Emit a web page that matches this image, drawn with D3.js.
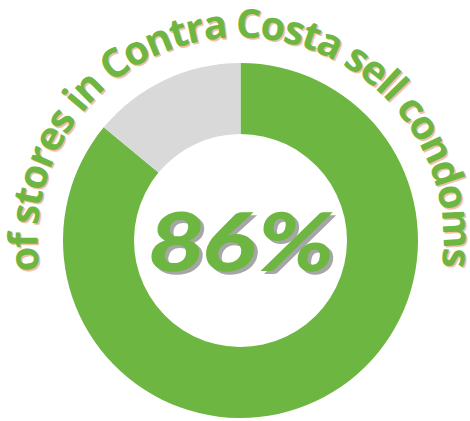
<!DOCTYPE html>
<html><head><meta charset="utf-8">
<script src="https://cdn.jsdelivr.net/npm/d3@7"></script>
<style>html,body{margin:0;padding:0;background:#fff;}svg{display:block;}</style>
</head><body>
<svg id="chart" width="470" height="421"></svg>
<script>
const categories = ["Sell condoms", "Do not sell condoms"];
const values = [86, 14];
const colors = ["#6db641", "#d9d9d9"];
const centerLabel = "86%";
const arcLabel = "of stores in Contra Costa sell condoms";

const svg = d3.select("#chart");
const cx = 240.5, cy = 240.5, outerR = 177.5, innerR = 106.5;
const g = svg.append("g").attr("transform", `translate(${cx},${cy})`);

const pie = d3.pie().sort(null).value(d => d.v);
const arc = d3.arc().innerRadius(innerR).outerRadius(outerR);
const data = categories.map((c, i) => ({c, v: values[i], col: colors[i]}));
g.selectAll("path.slice").data(pie(data)).join("path")
  .attr("class", "slice").attr("d", arc).attr("fill", d => d.data.col);

// arc text path
const textR = 203;
const a0 = -99 * Math.PI / 180, a1 = 98 * Math.PI / 180;
const p = d3.path();
p.arc(0, 0, textR, a0 - Math.PI / 2, a1 - Math.PI / 2, false);
g.append("path").attr("id", "tp").attr("d", p.toString()).attr("fill", "none");

const arcLen = textR * (a1 - a0);
function arcText(dx, dy, fill) {
  g.append("text")
    .attr("transform", `translate(${dx},${dy})`)
    .attr("font-family", "'Open Sans', sans-serif")
    .attr("font-weight", 700).attr("font-size", 40).attr("fill", fill)
    .append("textPath").attr("href", "#tp").attr("startOffset", "50%")
    .attr("text-anchor", "middle")
    .attr("textLength", arcLen - 4).attr("lengthAdjust", "spacing")
    .text(arcLabel);
}
arcText(1.6, 1.6, "#f5bfa6");
arcText(0, 0, "#6db641");

function center(dx, dy, fill) {
  g.append("text")
    .attr("transform", `translate(${dx - 2},${30 + dy}) skewX(-8) scale(1.15,1)`)
    .attr("text-anchor", "middle")
    .attr("font-family", "Lato, sans-serif").attr("font-weight", 900)
    .attr("font-size", 81).attr("fill", fill)
    .text(centerLabel);
}
center(3.5, 3, "#a6a6a6");
center(0, 0, "#6db641");
</script>
</body></html>
